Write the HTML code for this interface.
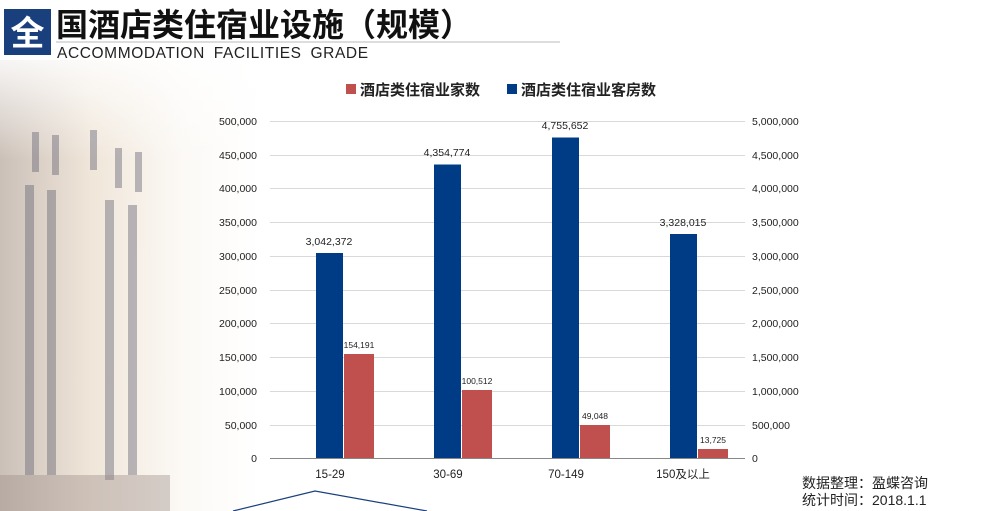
<!DOCTYPE html>
<html><head><meta charset="utf-8"><style>
html,body{margin:0;padding:0;width:998px;height:511px;overflow:hidden;background:#fff;}
body{position:relative;font-family:"Liberation Sans","Noto Sans CJK SC",sans-serif;}
.bg{position:absolute;left:0;top:60px;width:260px;height:451px;
background:linear-gradient(90deg,rgba(160,140,125,0.55) 0%,rgba(225,205,180,0.5) 35%,rgba(245,238,228,0.35) 70%,rgba(255,255,255,0) 100%);}
.bg2{position:absolute;left:0;top:60px;width:300px;height:100px;background:linear-gradient(180deg,rgba(255,255,255,0.85),rgba(255,255,255,0));}
</style></head><body>
<div class="bg"></div>
<div class="bg2"></div>
<svg width="998" height="511" style="position:absolute;left:0;top:0" font-family="Liberation Sans, Noto Sans CJK SC, sans-serif">
  <g fill="#6a6878" opacity="0.45">
    <rect x="25" y="185" width="9" height="290"/><rect x="47" y="190" width="9" height="285"/>
    <rect x="105" y="200" width="9" height="280"/><rect x="128" y="205" width="9" height="270"/>
    <rect x="32" y="132" width="7" height="40"/><rect x="52" y="135" width="7" height="40"/>
    <rect x="90" y="130" width="7" height="40"/><rect x="115" y="148" width="7" height="40"/><rect x="135" y="152" width="7" height="40"/>
  </g>
  <rect x="0" y="475" width="170" height="36" fill="#9a8c88" opacity="0.4"/>
  <rect x="4" y="9" width="47" height="46" fill="#1a3f7d"/>
  <text x="27.5" y="45" font-size="34" font-weight="bold" fill="#fff" text-anchor="middle">全</text>
  <text x="56" y="36" font-size="32" font-weight="bold" fill="#111">国酒店类住宿业设施（规模）</text>
  <line x1="56" y1="42" x2="560" y2="42" stroke="#bbb" stroke-width="1"/>
  <text x="57" y="58" font-size="15.5" fill="#222" letter-spacing="0.6" word-spacing="4">ACCOMMODATION FACILITIES GRADE</text>
  <rect x="346" y="84" width="10" height="10" fill="#c0504d"/>
  <text x="360" y="95" font-size="15" font-weight="bold" fill="#222">酒店类住宿业家数</text>
  <rect x="507" y="84" width="10" height="10" fill="#003b85"/>
  <text x="521" y="95" font-size="15" font-weight="bold" fill="#222">酒店类住宿业客房数</text>
  <g stroke="#d9d9d9" stroke-width="1">
    <line x1="270" y1="121.5" x2="745" y2="121.5"/><line x1="270" y1="155.5" x2="745" y2="155.5"/>
    <line x1="270" y1="188.5" x2="745" y2="188.5"/><line x1="270" y1="222.5" x2="745" y2="222.5"/>
    <line x1="270" y1="256.5" x2="745" y2="256.5"/><line x1="270" y1="290.5" x2="745" y2="290.5"/>
    <line x1="270" y1="323.5" x2="745" y2="323.5"/><line x1="270" y1="357.5" x2="745" y2="357.5"/>
    <line x1="270" y1="391.5" x2="745" y2="391.5"/><line x1="270" y1="425.5" x2="745" y2="425.5"/>
  </g>
  <line x1="270" y1="458.5" x2="745" y2="458.5" stroke="#888" stroke-width="1"/>
  <g font-size="10.5" fill="#222" text-anchor="end">
    <text x="257" y="125">500,000</text><text x="257" y="159">450,000</text><text x="257" y="192">400,000</text>
    <text x="257" y="226">350,000</text><text x="257" y="260">300,000</text><text x="257" y="294">250,000</text>
    <text x="257" y="327">200,000</text><text x="257" y="361">150,000</text><text x="257" y="395">100,000</text>
    <text x="257" y="429">50,000</text><text x="257" y="462">0</text>
  </g>
  <g font-size="10.5" fill="#222">
    <text x="752" y="125">5,000,000</text><text x="752" y="159">4,500,000</text><text x="752" y="192">4,000,000</text>
    <text x="752" y="226">3,500,000</text><text x="752" y="260">3,000,000</text><text x="752" y="294">2,500,000</text>
    <text x="752" y="327">2,000,000</text><text x="752" y="361">1,500,000</text><text x="752" y="395">1,000,000</text>
    <text x="752" y="429">500,000</text><text x="752" y="462">0</text>
  </g>
  <g fill="#003b85">
    <rect x="316" y="253" width="27" height="205"/><rect x="434" y="164.5" width="27" height="293.5"/>
    <rect x="552" y="137.5" width="27" height="320.5"/><rect x="670" y="234" width="27" height="224"/>
  </g>
  <g fill="#c0504d">
    <rect x="344" y="354" width="30" height="104"/><rect x="462" y="390" width="30" height="68"/>
    <rect x="580" y="425" width="30" height="33"/><rect x="698" y="449" width="30" height="9"/>
  </g>
  <g font-size="10.5" fill="#222" text-anchor="middle">
    <text x="329" y="245">3,042,372</text><text x="447" y="156">4,354,774</text>
    <text x="565" y="129">4,755,652</text><text x="683" y="226">3,328,015</text>
  </g>
  <g font-size="8.5" fill="#222" text-anchor="middle">
    <text x="359" y="348">154,191</text><text x="477" y="384">100,512</text>
    <text x="595" y="419">49,048</text><text x="713" y="443">13,725</text>
  </g>
  <g font-size="11.5" fill="#222" text-anchor="middle">
    <text x="330" y="478">15-29</text><text x="448" y="478">30-69</text>
    <text x="566" y="478">70-149</text><text x="683" y="478">150及以上</text>
  </g>
  <polyline points="233,511 315,491 427,511" fill="none" stroke="#1a3f7d" stroke-width="1.2"/>
  <g font-size="14" fill="#222">
    <text x="802" y="488">数据整理：盈蝶咨询</text>
    <text x="802" y="505">统计时间：2018.1.1</text>
  </g>
</svg>
</body></html>
